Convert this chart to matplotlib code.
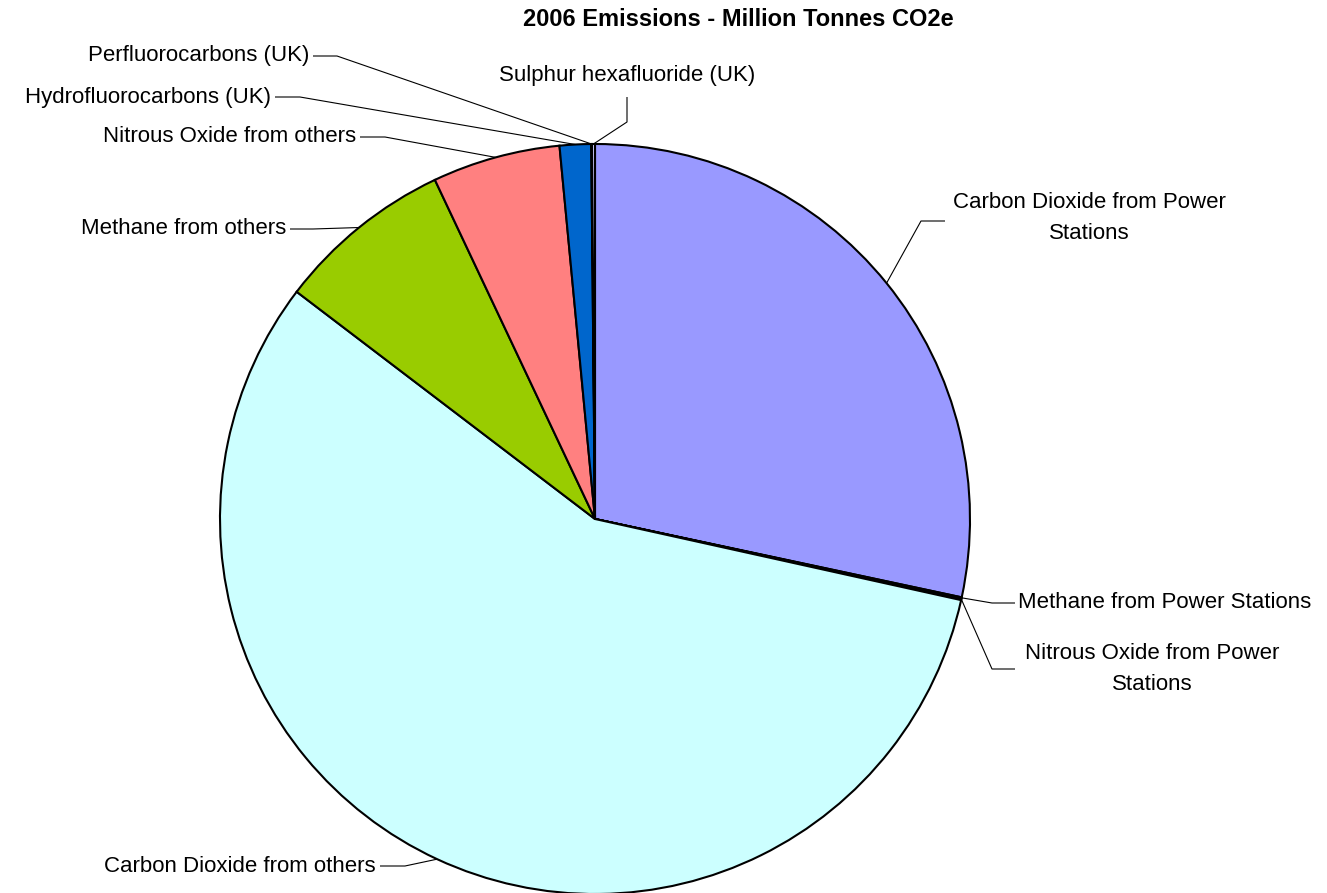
import numpy as np
import matplotlib
matplotlib.use("Agg")
import matplotlib.pyplot as plt

plt.rcParams['font.family'] = ['Liberation Sans', 'DejaVu Sans']

# share of 2006 emissions (%)
labels = ["Carbon Dioxide from Power Stations", "Methane from Power Stations",
          "Nitrous Oxide from Power Stations", "Carbon Dioxide from others",
          "Methane from others", "Nitrous Oxide from others",
          "Hydrofluorocarbons (UK)", "Perfluorocarbons (UK)",
          "Sulphur hexafluoride (UK)"]
values = [28.35, 0.04, 0.08, 56.89, 7.62, 5.51, 1.35, 0.03, 0.13]
colors = ["#9999FF", "#993366", "#FFFFCC", "#CCFFFF", "#99CC00",
          "#FF8080", "#0066CC", "#CCCCFF", "#CCCCFF"]

W, H = 1327, 893
cx, cy, R = 595, 519, 375

# label layout in pixel coords (y down): elbow, line end, text pos, alignment, text
layout = [
    ((921, 221), (945, 221), (1089, 218), 'center', "Carbon Dioxide from Power\nStations"),
    ((992, 603), (1015, 603), (1018, 603), 'left', None),
    ((992, 669), (1015, 669), (1152, 669), 'center', "Nitrous Oxide from Power\nStations"),
    ((405, 866), (380, 866), (376, 866), 'right', None),
    ((313, 229), (290, 229), (286, 229), 'right', None),
    ((385, 137), (360, 137), (356, 137), 'right', None),
    ((300, 97), (275, 97), (271, 97), 'right', None),
    ((337, 56), (313, 56), (309, 56), 'right', None),
    ((627, 122), (627, 97), (627, 75), 'center', None),
]

fig = plt.figure(figsize=(W / 100, H / 100), dpi=100)
ax = fig.add_axes([0, 0, 1, 1])

wedges, _ = ax.pie(values, colors=colors, startangle=90, counterclock=False,
                   center=(cx, H - cy), radius=R,
                   wedgeprops=dict(edgecolor='black', linewidth=1.5))

for w, lab, (elbow, end, tpos, ha, txt) in zip(wedges, labels, layout):
    mid = np.deg2rad((w.theta1 + w.theta2) / 2)
    x0 = cx + R * np.cos(mid)
    y0 = (H - cy) + R * np.sin(mid)
    ax.plot([x0, elbow[0], end[0]], [y0, H - elbow[1], H - end[1]],
            color='black', lw=0.8, solid_capstyle='butt')
    ax.text(tpos[0], H - tpos[1], txt if txt else lab, ha=ha, va='center',
            fontsize=16, linespacing=1.6, multialignment='center')

ax.text(738, H - 20, "2006 Emissions - Million Tonnes CO2e", ha='center',
        va='center', fontsize=17, fontweight='bold')

ax.set_xlim(0, W)
ax.set_ylim(0, H)
ax.set_aspect('equal')
ax.axis('off')

fig.savefig("out.png", dpi=100, facecolor='white')
